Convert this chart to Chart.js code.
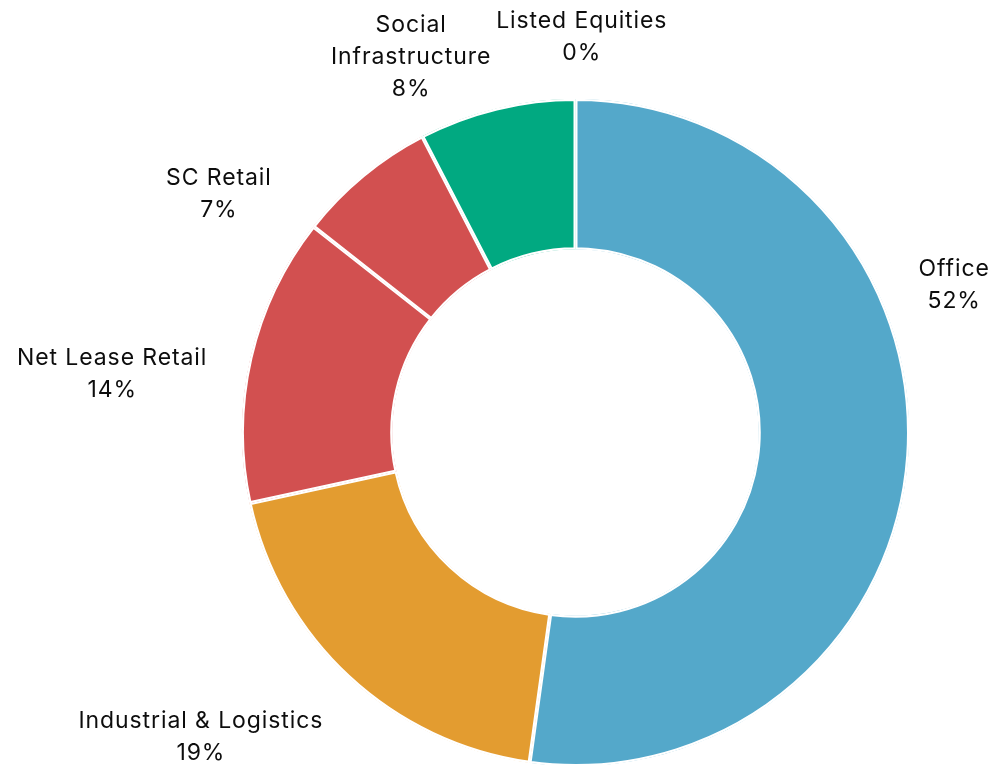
<!DOCTYPE html>
<html>
<head>
<meta charset="utf-8">
<title>Portfolio allocation</title>
<script src="https://cdn.jsdelivr.net/npm/chart.js@4.4.1/dist/chart.umd.min.js"></script>
<style>
  html, body { margin: 0; padding: 0; background: #fff; }
  #wrap { width: 999px; height: 765px; }
</style>
</head>
<body>
<div id="wrap"><canvas id="allocChart" width="999" height="765"></canvas></div>
<script>
// sectors, clockwise from 12 o'clock
const sectors = ['Office', 'Industrial & Logistics', 'Net Lease Retail', 'SC Retail', 'Social Infrastructure', 'Listed Equities'];
const shares = [52.2, 19.4, 14.0, 6.8, 7.6, 0];
const sectorColors = ['#54a8ca', '#e39c30', '#d25050', '#d25050', '#01a981', '#8e8e8e'];

// label text lines (the % line is added from the data)
const labelLines = [['Office'], ['Industrial & Logistics'], ['Net Lease Retail'], ['SC Retail'], ['Social', 'Infrastructure'], ['Listed Equities']];
// where each label sits: angle (deg, clockwise from top) and distance as a multiple of the radius
const labelAngle = [68.4, 231.2, 277.5, 304.1, 336.5, 0.9];
const labelDist = [1.22, 1.44, 1.40, 1.29, 1.235, 1.195];

const LINE_H = 32;
const BASELINE_NUDGE = 3; // Inter sits a little high with 'middle'

// draws the outside labels
const outsideLabels = {
    id: 'outsideLabels',
    afterDatasetsDraw(chart) {
        const meta = chart.getDatasetMeta(0);
        if (!meta.data.length) return;
        const arc = meta.data[0];
        const cx = arc.x, cy = arc.y, r = arc.outerRadius;
        const total = shares.reduce((a, b) => a + b, 0);
        const ctx = chart.ctx;
        ctx.save();
        ctx.font = '23px Inter, "Noto Sans", sans-serif';
        ctx.letterSpacing = '0.9px';
        ctx.fillStyle = '#0d0d0d';
        ctx.textAlign = 'center';
        ctx.textBaseline = 'middle';
        sectors.forEach((s, i) => {
            const lines = labelLines[i].concat([Math.round(shares[i] / total * 100) + '%']);
            const a = labelAngle[i] * Math.PI / 180;
            const x = cx + Math.sin(a) * r * labelDist[i];
            const y = cy - Math.cos(a) * r * labelDist[i] + BASELINE_NUDGE;
            const top = y - (lines.length - 1) * LINE_H / 2;
            lines.forEach((ln, k) => ctx.fillText(ln, x, top + k * LINE_H));
        });
        ctx.restore();
    }
};

new Chart(document.getElementById('allocChart').getContext('2d'), {
    type: 'doughnut',
    data: {
        labels: sectors,
        datasets: [{
            data: shares,
            backgroundColor: sectorColors,
            borderColor: '#ffffff',
            borderWidth: 2,
            borderAlign: 'inner',
            hoverOffset: 0,
            offset: 0
        }]
    },
    options: {
        responsive: false,
        animation: false,
        cutout: '54.8%',
        radius: '100.4%',
        layout: { padding: { top: 100, bottom: 0, left: 243, right: 91 } },
        plugins: {
            legend: { display: false },
            tooltip: { enabled: false }
        }
    },
    plugins: [outsideLabels]
});
</script>
</body>
</html>
